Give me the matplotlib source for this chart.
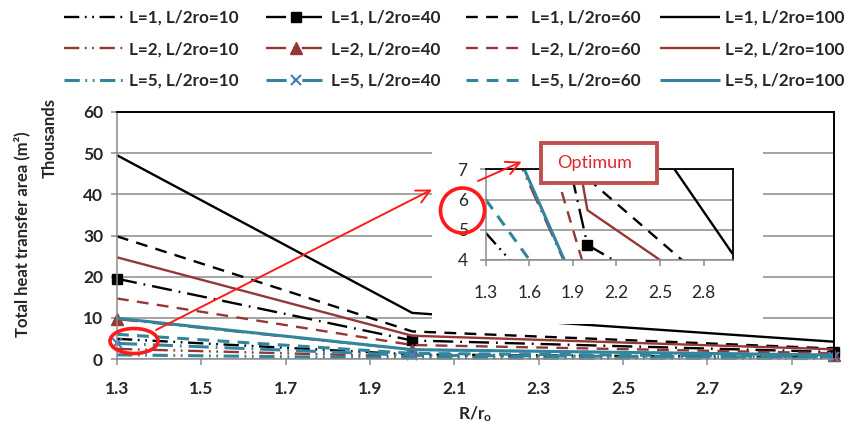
import numpy as np
import matplotlib
matplotlib.use("Agg")
import matplotlib.pyplot as plt
from matplotlib.patches import Rectangle, Ellipse, FancyArrowPatch

plt.rcParams['font.family'] = ['Lato', 'DejaVu Sans']
plt.rcParams['mathtext.default'] = 'regular'
plt.rcParams['lines.scale_dashes'] = False

# ---- data (values in thousands of m^2) ----
x_ratio = [1.3, 2.0, 3.0]
L1_10 = [4.9, 1.1, 0.42]
L1_40 = [19.5, 4.5, 1.7]
L1_60 = [29.8, 6.7, 2.55]
L1_100 = [49.5, 11.2, 4.2]
L2_10 = [2.45, 0.57, 0.24]
L2_40 = [9.7, 2.25, 0.95]
L2_60 = [14.7, 3.4, 1.4]
L2_100 = [24.7, 5.65, 2.35]
L5_10 = [1.0, 0.23, 0.1]
L5_40 = [3.8, 0.9, 0.38]
L5_60 = [6.0, 1.36, 0.57]
L5_100 = [9.9, 2.27, 0.95]

series = [
    ("L=1, L/2ro=10", L1_10, 1, 10), ("L=1, L/2ro=40", L1_40, 1, 40),
    ("L=1, L/2ro=60", L1_60, 1, 60), ("L=1, L/2ro=100", L1_100, 1, 100),
    ("L=2, L/2ro=10", L2_10, 2, 10), ("L=2, L/2ro=40", L2_40, 2, 40),
    ("L=2, L/2ro=60", L2_60, 2, 60), ("L=2, L/2ro=100", L2_100, 2, 100),
    ("L=5, L/2ro=10", L5_10, 5, 10), ("L=5, L/2ro=40", L5_40, 5, 40),
    ("L=5, L/2ro=60", L5_60, 5, 60), ("L=5, L/2ro=100", L5_100, 5, 100),
]
main_xticks = [1.3, 1.5, 1.7, 1.9, 2.1, 2.3, 2.5, 2.7, 2.9]
main_yticks = [0, 10, 20, 30, 40, 50, 60]
inset_xticks = [1.3, 1.6, 1.9, 2.2, 2.5, 2.8]
inset_yticks = [4, 5, 6, 7]
ratios = [10, 40, 60, 100]

colors = {1: 'black', 2: '#953735', 5: '#31859c'}
widths = {1: 1.7, 2: 1.7, 5: 2.2}
dashes = {10: (0, (11, 4, 1.3, 4, 1.3, 4)), 40: (0, (14.5, 5, 1.3, 5)),
          60: (0, (8.5, 6)), 100: '-'}
markers = {1: 's', 2: '^', 5: 'x'}

W, H = 848, 432
def fx(px): return px / W
def fy(py): return 1 - py / H

fig = plt.figure(figsize=(W / 100, H / 100), dpi=100)
fig.patch.set_facecolor('white')

GRAY = '#8c8c8c'
TXT = '#262626'

def draw(ax, clip):
    handles = []
    for label, vals, L, r in series:
        kw = dict(color=colors[L], lw=widths[L], linestyle=dashes[r], label=label,
                  clip_on=clip, solid_capstyle='butt', dash_capstyle='butt')
        if r == 40:
            m = markers[L]
            if m == 'x':
                kw.update(marker='x', markersize=7.5, markeredgewidth=1.5,
                          markeredgecolor='#4a7ebb')
            elif m == 's':
                kw.update(marker='s', markersize=7, markeredgecolor='black')
            else:
                kw.update(marker='^', markersize=8, markeredgecolor=colors[L])
        ln, = ax.plot(x_ratio, vals, **kw)
        handles.append(ln)
    return handles

# ---- main axes ----
ax = fig.add_axes([fx(117), fy(359), (834 - 117) / W, (359 - 112) / H])
ax.set_facecolor('white')
handles = draw(ax, False)
ax.set_xlim(1.3, 3.0)
ax.set_ylim(0, 60)
ax.set_xticks(main_xticks)
ax.set_xticklabels([f"{v:.1f}" for v in main_xticks])
ax.set_yticks(main_yticks)
ax.grid(axis='y', color=GRAY, lw=1.1)
ax.set_axisbelow(True)
for s in ['left', 'bottom']:
    ax.spines[s].set_color(GRAY); ax.spines[s].set_linewidth(1.1)
for s in ['top', 'right']:
    ax.spines[s].set_color('black'); ax.spines[s].set_linewidth(1.4)
ax.tick_params(direction='out', length=4, width=1.1, color=GRAY,
               labelsize=12.5, labelcolor=TXT)
ax.tick_params(axis='x', pad=12)
ax.tick_params(axis='y', pad=6)
for t in ax.get_xticklabels() + ax.get_yticklabels():
    t.set_fontweight('bold')
ax.set_xlabel("R/r$_o$", fontsize=12.5, fontweight='bold', color=TXT, labelpad=5)

fig.text(fx(22), fy(234), "Total heat transfer area (m²)", rotation=90,
         ha='center', va='center', fontsize=12, fontweight='bold', color=TXT)
fig.text(fx(50), fy(138), "Thousands", rotation=90, ha='center', va='center',
         fontsize=12, fontweight='bold', color=TXT)

# ---- inset chart area (white) ----
fig.add_artist(Rectangle((fx(432), fy(324)), (763 - 432) / W, (324 - 118) / H,
                         transform=fig.transFigure, facecolor='white',
                         edgecolor='none', zorder=1))

ax2 = fig.add_axes([fx(485.7), fy(260), (732.7 - 485.7) / W, (260 - 169.3) / H])
ax2.set_zorder(2)
ax2.set_facecolor('white')
draw(ax2, True)
ax2.set_xlim(1.3, 3.0)
ax2.set_ylim(4, 7)
ax2.set_xticks(inset_xticks)
ax2.set_xticklabels([f"{v:.1f}" for v in inset_xticks])
ax2.set_yticks(inset_yticks)
ax2.grid(axis='y', color=GRAY, lw=1.1)
ax2.set_axisbelow(True)
for s in ['left', 'bottom']:
    ax2.spines[s].set_color(GRAY); ax2.spines[s].set_linewidth(1.1)
for s in ['top', 'right']:
    ax2.spines[s].set_color('black'); ax2.spines[s].set_linewidth(1.3)
ax2.tick_params(direction='out', length=4, width=1.1, color=GRAY,
                labelsize=12.5, labelcolor=TXT)
ax2.tick_params(axis='x', pad=14)
ax2.tick_params(axis='y', pad=9)

# ---- red annotations ----
RED = '#ff1a1a'
fig.add_artist(Ellipse((fx(134), fy(341)), 48 / W, 25 / H, transform=fig.transFigure,
                       fill=False, edgecolor=RED, lw=2.6, zorder=4))
fig.add_artist(Ellipse((fx(462.5), fy(210.5)), 44 / W, 45 / H, transform=fig.transFigure,
                       fill=False, edgecolor=RED, lw=2.6, zorder=4))
fig.add_artist(FancyArrowPatch((fx(156), fy(330)), (fx(432), fy(189.5)),
                               transform=fig.transFigure, color=RED, lw=1.4,
                               arrowstyle='->,head_length=0.6,head_width=0.3',
                               mutation_scale=16, zorder=4, shrinkA=0, shrinkB=0))
fig.add_artist(FancyArrowPatch((fx(478), fy(181)), (fx(521.7), fy(161.7)),
                               transform=fig.transFigure, color=RED, lw=1.4,
                               arrowstyle='->,head_length=0.6,head_width=0.3',
                               mutation_scale=16, zorder=4, shrinkA=0, shrinkB=0))
fig.add_artist(Rectangle((fx(541), fy(183)), 116 / W, 40 / H, transform=fig.transFigure,
                         facecolor='white', edgecolor='#c0504d', lw=2.8, zorder=4))
fig.text(fx(557), fy(163), "Optimum", ha='left', va='center', fontsize=13,
         color='#e0262e', zorder=5)

# ---- legend: one column per L/2ro value, rows L=1, 2, 5 ----
col_left = [64, 266, 466, 660]
for ci, r in enumerate(ratios):
    idx = [i for i, s in enumerate(series) if s[3] == r]
    fig.legend([handles[i] for i in idx], [series[i][0] for i in idx],
               loc='upper left', bbox_to_anchor=(fx(col_left[ci]), fy(10)),
               frameon=False, prop={'weight': 'bold', 'size': 12.3},
               handlelength=3.5, handletextpad=0.3,
               labelspacing=0.9, borderpad=0, borderaxespad=0, labelcolor=TXT)

fig.savefig("out.png", dpi=100, facecolor='white')
